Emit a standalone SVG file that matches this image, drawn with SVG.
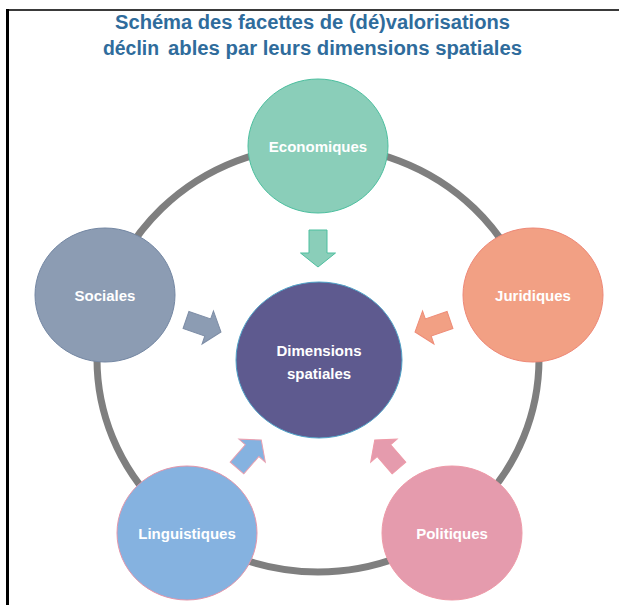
<svg xmlns="http://www.w3.org/2000/svg" width="619" height="605" viewBox="0 0 619 605">
<defs>
<style>
.title{font-family:"Liberation Sans",Arial,sans-serif;font-weight:bold;font-size:20px;fill:#2F6C9C}
.lbl{font-family:"Liberation Sans",Arial,sans-serif;font-weight:bold;font-size:15px;fill:#ffffff;text-anchor:middle}
.ring{fill:none;stroke:#7f7f7f;stroke-width:7}
</style>
<path id="arr" d="M0,-9 L23,-9 L23,-17.5 L37,0 L23,17.5 L23,9 L0,9 Z"/>
</defs>
<rect x="0" y="0" width="619" height="605" fill="#ffffff"/>
<line x1="6" y1="10" x2="619" y2="10" stroke="#3a3a3a" stroke-width="2"/>
<line x1="7.5" y1="9" x2="7.5" y2="605" stroke="#000000" stroke-width="3"/>
<g id="title">
<text class="title" x="115" y="29" textLength="395" lengthAdjust="spacingAndGlyphs">Schéma des facettes de (dé)valorisations</text>
<text class="title" x="103" y="55" textLength="56" lengthAdjust="spacingAndGlyphs">déclin</text>
<text class="title" x="168" y="55" textLength="354" lengthAdjust="spacingAndGlyphs">ables par leurs dimensions spatiales</text>
</g>
<g id="connectors">
<ellipse class="ring" cx="318" cy="359" rx="221" ry="213"/>
<use href="#arr" transform="translate(318,230) rotate(90)" fill="#8ACEB9" stroke="#4DBF9F" stroke-width="1"/>
<use href="#arr" transform="translate(186,320) rotate(19)" fill="#8C9CB3" stroke="#7D8DA6" stroke-width="1"/>
<use href="#arr" transform="translate(450,320) rotate(161)" fill="#F2A084" stroke="#EE8C78" stroke-width="1"/>
<use href="#arr" transform="translate(237,468) rotate(-49)" fill="#85B2E0" stroke="#E9A0B0" stroke-width="1"/>
<use href="#arr" transform="translate(399,468) rotate(-131)" fill="#E59BAD" stroke="#EE9AA8" stroke-width="1"/>
</g>
<g id="economiques">
<ellipse cx="318" cy="146" rx="70" ry="67" fill="#8ACEB9" stroke="#4DBF9F" stroke-width="1"/>
<text class="lbl" x="318" y="152">Economiques</text>
</g>
<g id="sociales">
<ellipse cx="105" cy="295" rx="70" ry="67" fill="#8C9CB3" stroke="#7487A3" stroke-width="1"/>
<text class="lbl" x="105" y="301">Sociales</text>
</g>
<g id="juridiques">
<ellipse cx="533" cy="295" rx="70" ry="67" fill="#F2A084" stroke="#EE8877" stroke-width="1"/>
<text class="lbl" x="533" y="301">Juridiques</text>
</g>
<g id="linguistiques">
<ellipse cx="187" cy="533" rx="70" ry="67" fill="#85B2E0" stroke="#E596AA" stroke-width="1"/>
<text class="lbl" x="187" y="539">Linguistiques</text>
</g>
<g id="politiques">
<ellipse cx="452" cy="533" rx="70" ry="67" fill="#E59BAD" stroke="#EE9AA8" stroke-width="1"/>
<text class="lbl" x="452" y="539">Politiques</text>
</g>
<g id="dimensions">
<ellipse cx="319" cy="360" rx="83" ry="78" fill="#5E5A8F" stroke="#4FA3C8" stroke-width="1"/>
<text class="lbl" x="319" y="356">Dimensions</text>
<text class="lbl" x="319" y="379">spatiales</text>
</g>
</svg>
